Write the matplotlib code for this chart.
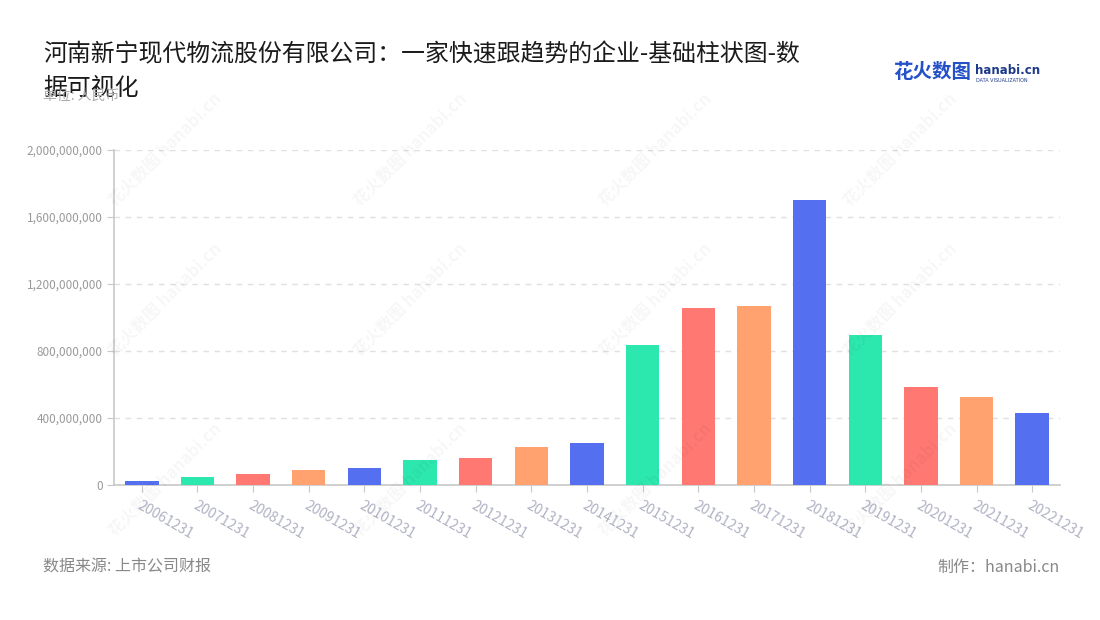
import matplotlib
matplotlib.use("Agg")
import matplotlib.pyplot as plt
from matplotlib.ticker import FuncFormatter

plt.rcParams['font.family'] = ['Noto Sans CJK SC', 'DejaVu Sans']

categories = ["20061231", "20071231", "20081231", "20091231", "20101231", "20111231",
              "20121231", "20131231", "20141231", "20151231", "20161231", "20171231",
              "20181231", "20191231", "20201231", "20211231", "20221231"]
values = [22e6, 48e6, 64e6, 87e6, 102e6, 150e6, 160e6, 224e6, 248e6, 836e6,
          1057e6, 1069e6, 1699e6, 896e6, 585e6, 528e6, 430e6]
palette = ["#5470F0", "#2DE8AE", "#FF7872", "#FFA26F"]
yticks = [0, 400e6, 800e6, 1200e6, 1600e6, 2000e6]

title_line1 = "河南新宁现代物流股份有限公司：一家快速跟趋势的企业-基础柱状图-数"
title_line2 = "据可视化"
unit = "单位: 人民币"
source = "数据来源: 上市公司财报"
maker = "制作：hanabi.cn"

W, H = 1100, 620
fig = plt.figure(figsize=(W / 100, H / 100), dpi=100)
fig.patch.set_facecolor("white")

# watermarks
for wy in [150, 300, 480]:
    for wx in [165, 410, 655, 900]:
        fig.text(wx / W, 1 - wy / H, "花火数图 hanabi.cn", rotation=45, fontsize=12,
                 color="#000000", alpha=0.035, ha="center", va="center", fontweight="bold")

ax = fig.add_axes([114 / W, 1 - 485 / H, (1060 - 114) / W, (485 - 150) / H])
ax.set_facecolor("none")
x = list(range(len(categories)))
colors = [palette[i % len(palette)] for i in range(len(categories))]
ax.bar(x, values, width=0.6, color=colors, zorder=3)

ax.set_xlim(-0.5, len(categories) - 0.5)
ax.set_ylim(0, 2000e6)
ax.set_yticks(yticks)
ax.yaxis.set_major_formatter(FuncFormatter(lambda v, p: f"{int(v):,}"))
ax.grid(axis="y", color="#E0E0E0", linestyle=(0, (4, 4)), linewidth=1, zorder=0)

ax.set_xticks(x)
ax.set_xticklabels(categories, rotation=-30, ha="left", va="top", rotation_mode="anchor")

for s in ["top", "right"]:
    ax.spines[s].set_visible(False)
for s in ["left", "bottom"]:
    ax.spines[s].set_color("#C8C8C8")
    ax.spines[s].set_linewidth(1.2)

ax.tick_params(axis="y", colors="#C8C8C8", labelcolor="#9A9A9A", labelsize=8.5, length=5, pad=3)
ax.tick_params(axis="x", colors="#C8C8C8", labelcolor="#B0B2C4", labelsize=10, length=5, pad=5)

fig.text(43 / W, 1 - 55 / H, title_line1, fontsize=17.2, color="#1a1a1a", ha="left", va="center")
fig.text(43 / W, 1 - 88 / H, title_line2, fontsize=17.2, color="#1a1a1a", ha="left", va="center")
fig.text(43 / W, 1 - 96 / H, unit, fontsize=10, color="#AAAAAA", ha="left", va="center")

# logo
fig.text(893 / W, 1 - 73 / H, "花火数图", fontsize=14, color="#2450C8", ha="left", va="center",
         fontweight="bold")
fig.text(975 / W, 1 - 71 / H, "hanabi.cn", fontsize=8.5, color="#1E3A8A", ha="left", va="center",
         fontweight="bold", family="DejaVu Sans")
fig.text(976 / W, 1 - 80 / H, "DATA VISUALIZATION", fontsize=3.5, color="#1E3A8A", ha="left",
         va="center", family="DejaVu Sans")

fig.text(43 / W, 1 - 567 / H, source, fontsize=11.5, color="#888888", ha="left", va="center")
fig.text(1060 / W, 1 - 567 / H, maker, fontsize=11.5, color="#888888", ha="right", va="center")

fig.savefig("out.png", dpi=100)
